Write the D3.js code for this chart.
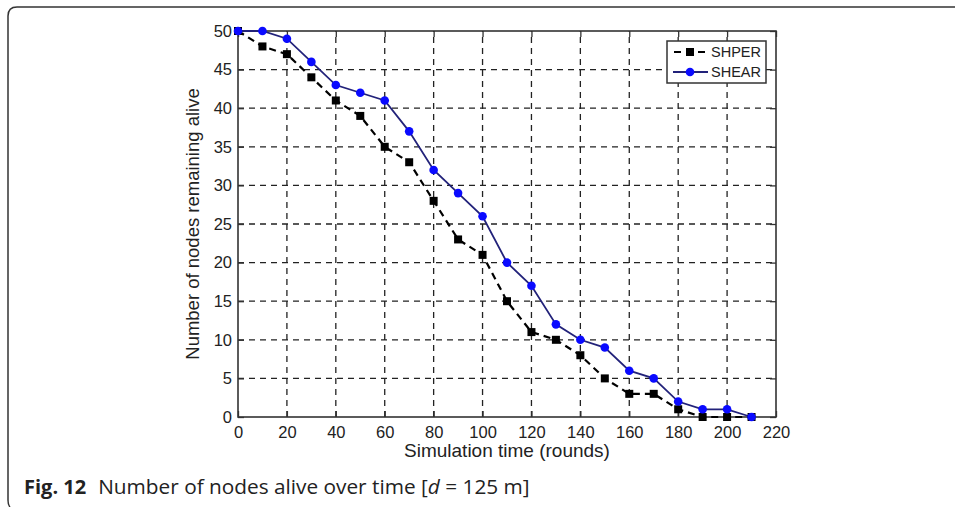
<!DOCTYPE html>
<html>
<head>
<meta charset="utf-8">
<script src="https://cdn.jsdelivr.net/npm/d3@7"></script>
<style>
  body { margin: 0; background: #fff; }
  svg text { font-family: "Liberation Sans", Arial, sans-serif; fill: #222; }
</style>
</head>
<body>
<script>
// rounds on the x axis
const rounds = [0, 10, 20, 30, 40, 50, 60, 70, 80, 90, 100, 110, 120, 130, 140, 150, 160, 170, 180, 190, 200, 210];
// nodes alive per protocol
const shper = [50, 48, 47, 44, 41, 39, 35, 33, 28, 23, 21, 15, 11, 10, 8, 5, 3, 3, 1, 0, 0, 0];
const shear = [50, 50, 49, 46, 43, 42, 41, 37, 32, 29, 26, 20, 17, 12, 10, 9, 6, 5, 2, 1, 1, 0];

const xTicks = [0, 20, 40, 60, 80, 100, 120, 140, 160, 180, 200, 220];
const yTicks = [0, 5, 10, 15, 20, 25, 30, 35, 40, 45, 50];

const W = 955, H = 507;
const pLeft = 238, pRight = 776, pTop = 31, pBottom = 417;

var svg = d3.select("body").append("svg")
    .attr("width", W)
    .attr("height", H);

// outer figure frame
svg.append("path")
    .attr("d", "M955,7 H17 Q8,7 8,16 V500 Q8,505 10,507")
    .attr("fill", "none")
    .attr("stroke", "#333")
    .attr("stroke-width", 1.5);

let x = d3.scaleLinear().domain([0, 220]).range([pLeft, pRight]);
let y = d3.scaleLinear().domain([0, 50]).range([pBottom, pTop]);

// grid
let grid = svg.append("g")
    .attr("stroke", "#222")
    .attr("stroke-width", 1.3)
    .attr("stroke-dasharray", "6,5");

grid.selectAll(".gx")
    .data(xTicks.filter(d => d > 0 && d < 220))
    .enter().append("line")
    .attr("x1", d => x(d)).attr("x2", d => x(d))
    .attr("y1", pBottom).attr("y2", pTop);

grid.selectAll(".gy")
    .data(yTicks.filter(d => d > 0 && d < 50))
    .enter().append("line")
    .attr("y1", d => y(d)).attr("y2", d => y(d))
    .attr("x1", pLeft).attr("x2", pRight);

// axes with inward ticks
let xAxis = svg.append("g")
    .attr("transform", `translate(0, ${pBottom})`)
    .call(d3.axisBottom(x).tickValues(xTicks).tickSizeInner(-6).tickSizeOuter(0).tickPadding(9));
let xTop = svg.append("g")
    .attr("transform", `translate(0, ${pTop})`)
    .call(d3.axisTop(x).tickValues(xTicks).tickSizeInner(-6).tickSizeOuter(0).tickFormat(""));
let yAxis = svg.append("g")
    .attr("transform", `translate(${pLeft}, 0)`)
    .call(d3.axisLeft(y).tickValues(yTicks).tickSizeInner(-6).tickSizeOuter(0).tickPadding(6));
let yRight = svg.append("g")
    .attr("transform", `translate(${pRight}, 0)`)
    .call(d3.axisRight(y).tickValues(yTicks).tickSizeInner(-6).tickSizeOuter(0).tickFormat(""));

[xAxis, xTop, yAxis, yRight].forEach(a => {
    a.select(".domain").remove();
    a.selectAll("line").attr("stroke", "#333").attr("stroke-width", 1.3);
    a.selectAll("text")
        .attr("font-size", 16.5)
        .attr("fill", "#222")
        .attr("font-family", "Liberation Sans, Arial, sans-serif");
});

// plot box
svg.append("rect")
    .attr("x", pLeft).attr("y", pTop)
    .attr("width", pRight - pLeft).attr("height", pBottom - pTop)
    .attr("fill", "none")
    .attr("stroke", "#333")
    .attr("stroke-width", 1.6);

// axis titles
svg.append("text")
    .attr("x", (pLeft + pRight) / 2)
    .attr("y", 457)
    .attr("text-anchor", "middle")
    .attr("font-size", 19)
    .text("Simulation time (rounds)");

svg.append("text")
    .attr("transform", `translate(199, ${(pTop + pBottom) / 2}) rotate(-90)`)
    .attr("text-anchor", "middle")
    .attr("font-size", 18.5)
    .text("Number of nodes remaining alive");

var line = d3.line();

// SHPER series
let shperPts = rounds.map((r, i) => [x(r), y(shper[i])]);
svg.append("path")
    .data([shperPts])
    .attr("d", line)
    .attr("fill", "none")
    .attr("stroke", "#000")
    .attr("stroke-width", 2.2)
    .attr("stroke-dasharray", "7,5");

// SHEAR series
let shearPts = rounds.map((r, i) => [x(r), y(shear[i])]);
svg.append("path")
    .data([shearPts])
    .attr("d", line)
    .attr("fill", "none")
    .attr("stroke", "#22227a")
    .attr("stroke-width", 1.8);

svg.selectAll(".sq")
    .data(shperPts)
    .enter().append("rect")
    .attr("x", d => d[0] - 4)
    .attr("y", d => d[1] - 4)
    .attr("width", 8).attr("height", 8)
    .attr("fill", "#000");

svg.selectAll(".dot")
    .data(shearPts)
    .enter().append("circle")
    .attr("cx", d => d[0])
    .attr("cy", d => d[1])
    .attr("r", 4.3)
    .attr("fill", "#0a0aff");

// legend
let lg = svg.append("g");
lg.append("rect")
    .attr("x", 667).attr("y", 41)
    .attr("width", 99).attr("height", 42)
    .attr("fill", "#fff")
    .attr("stroke", "#333")
    .attr("stroke-width", 1.5);

lg.append("line")
    .attr("x1", 673).attr("x2", 708).attr("y1", 52).attr("y2", 52)
    .attr("stroke", "#000").attr("stroke-width", 2.2).attr("stroke-dasharray", "7,5")
    .attr("stroke-dashoffset", -1);
lg.append("rect")
    .attr("x", 686).attr("y", 48).attr("width", 8).attr("height", 8).attr("fill", "#000");
lg.append("text")
    .attr("x", 711).attr("y", 57)
    .attr("font-size", 14.5)
    .text("SHPER");

lg.append("line")
    .attr("x1", 673).attr("x2", 708).attr("y1", 72).attr("y2", 72)
    .attr("stroke", "#22227a").attr("stroke-width", 1.8);
lg.append("circle")
    .attr("cx", 690).attr("cy", 72).attr("r", 4.3).attr("fill", "#0a0aff");
lg.append("text")
    .attr("x", 711).attr("y", 77)
    .attr("font-size", 14.5)
    .text("SHEAR");

// caption
let cap = svg.append("text")
    .attr("x", 24).attr("y", 494)
    .attr("font-size", 20.8)
    .style("font-family", "'Open Sans', 'Noto Sans', sans-serif");
cap.append("tspan").attr("font-weight", "bold").attr("font-size", 20).text("Fig. 12");
cap.append("tspan").attr("dx", 12).text("Number of nodes alive over time [");
cap.append("tspan").attr("font-style", "italic").text("d");
cap.append("tspan").text(" = 125 m]");
</script>
</body>
</html>
